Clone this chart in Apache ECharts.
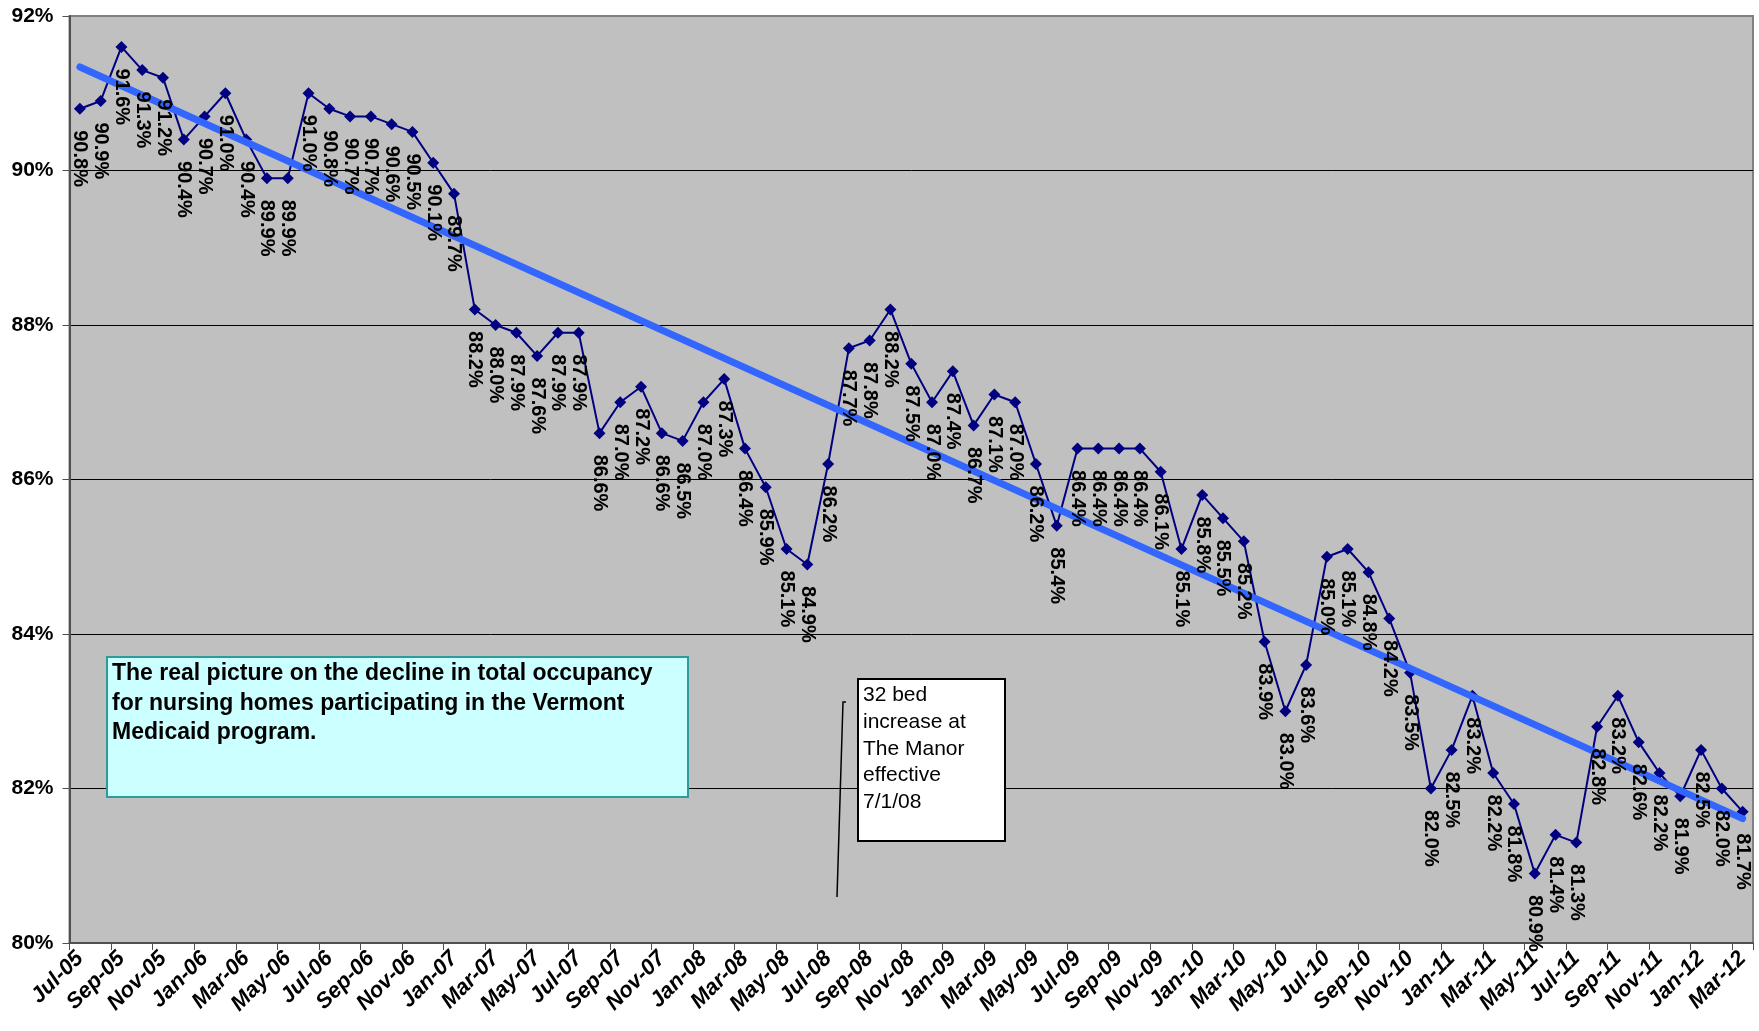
<!DOCTYPE html>
<html><head><meta charset="utf-8">
<script src="https://cdn.jsdelivr.net/npm/echarts@6/dist/echarts.min.js"></script>
<style>html,body{margin:0;padding:0;background:#fff}#c{width:1759px;height:1031px}</style>
</head><body><div id="c"></div>
<script>
const months = [
  'Jul-05','Aug-05','Sep-05','Oct-05','Nov-05','Dec-05',
  'Jan-06','Feb-06','Mar-06','Apr-06','May-06','Jun-06','Jul-06','Aug-06','Sep-06','Oct-06','Nov-06','Dec-06',
  'Jan-07','Feb-07','Mar-07','Apr-07','May-07','Jun-07','Jul-07','Aug-07','Sep-07','Oct-07','Nov-07','Dec-07',
  'Jan-08','Feb-08','Mar-08','Apr-08','May-08','Jun-08','Jul-08','Aug-08','Sep-08','Oct-08','Nov-08','Dec-08',
  'Jan-09','Feb-09','Mar-09','Apr-09','May-09','Jun-09','Jul-09','Aug-09','Sep-09','Oct-09','Nov-09','Dec-09',
  'Jan-10','Feb-10','Mar-10','Apr-10','May-10','Jun-10','Jul-10','Aug-10','Sep-10','Oct-10','Nov-10','Dec-10',
  'Jan-11','Feb-11','Mar-11','Apr-11','May-11','Jun-11','Jul-11','Aug-11','Sep-11','Oct-11','Nov-11','Dec-11',
  'Jan-12','Feb-12','Mar-12'
];
const occupancy = [
  90.8,90.9,91.6,91.3,91.2,90.4,
  90.7,91.0,90.4,89.9,89.9,91.0,90.8,90.7,90.7,90.6,90.5,90.1,
  89.7,88.2,88.0,87.9,87.6,87.9,87.9,86.6,87.0,87.2,86.6,86.5,
  87.0,87.3,86.4,85.9,85.1,84.9,86.2,87.7,87.8,88.2,87.5,87.0,
  87.4,86.7,87.1,87.0,86.2,85.4,86.4,86.4,86.4,86.4,86.1,85.1,
  85.8,85.5,85.2,83.9,83.0,83.6,85.0,85.1,84.8,84.2,83.5,82.0,
  82.5,83.2,82.2,81.8,80.9,81.4,81.3,82.8,83.2,82.6,82.2,81.9,
  82.5,82.0,81.7
];
// linear trend line end values (first and last month)
const trendEnds = [91.34, 81.61];
const yMin = 80, yMax = 92, yStep = 2;

const FONT = '"Liberation Sans", Arial, sans-serif';
const chart = echarts.init(document.getElementById('c'), null, {renderer: 'canvas'});
chart.setOption({
  animation: false,
  backgroundColor: '#ffffff',
  grid: {left: 69.5, right: 6, top: 16, bottom: 88, show: true,
         backgroundColor: '#C0C0C0', borderColor: '#808080', borderWidth: 2, containLabel: false},
  xAxis: {
    type: 'category', data: months, boundaryGap: true,
    axisLine: {show: true, lineStyle: {color: '#505050', width: 2}},
    axisTick: {show: true, interval: 1, length: 7, lineStyle: {color: '#505050', width: 1}},
    axisLabel: {interval: 1, rotate: 45, fontSize: 22, fontWeight: 'bold', fontStyle: 'italic',
                color: '#000', margin: 12, fontFamily: FONT},
    splitLine: {show: false}
  },
  yAxis: {
    type: 'value', min: yMin, max: yMax, interval: yStep,
    axisLine: {show: true, lineStyle: {color: '#505050', width: 2}},
    axisTick: {show: true, length: 7, lineStyle: {color: '#505050', width: 1}},
    axisLabel: {formatter: '{value}%', fontSize: 21, fontWeight: 'bold', color: '#000',
                fontFamily: FONT, margin: 16},
    splitLine: {show: true, lineStyle: {color: ['#000','#000','#000','#000','#000','#000','#808080'], width: 1}}
  },
  series: [
    {type: 'line', data: occupancy, z: 2, symbol: 'diamond', symbolSize: 12,
     lineStyle: {color: '#000080', width: 2}, itemStyle: {color: '#000080'}, label: {show: false}, silent: true},
    {type: 'line', data: [[months[0], trendEnds[0]], [months[months.length-1], trendEnds[1]]], z: 3,
     symbol: 'none', lineStyle: {color: '#3366FF', width: 7, cap: 'round'}, silent: true},
    {type: 'line', data: occupancy, z: 4, symbol: 'circle', symbolSize: 1,
     lineStyle: {opacity: 0, width: 0}, itemStyle: {color: 'rgba(0,0,0,0)'}, silent: true,
     label: {show: true, position: 'bottom', distance: 21, rotate: -90, align: 'left', verticalAlign: 'middle',
             formatter: p => p.value.toFixed(1) + '%', fontSize: 20, fontWeight: 'bold', fontFamily: FONT, color: '#000'}}
  ],
  graphic: [
    {type: 'rect', z: 10, shape: {x: 107, y: 657, width: 581, height: 140},
     style: {fill: '#CCFFFF', stroke: '#2E9A9A', lineWidth: 2}},
    {type: 'text', z: 11, x: 112, y: 659,
     style: {text: 'The real picture on the decline in total occupancy\nfor nursing homes participating in the Vermont\nMedicaid program.',
             font: 'bold 23px "Liberation Sans", Arial, sans-serif', fill: '#000', lineHeight: 29.5}},
    {type: 'rect', z: 10, shape: {x: 858, y: 679, width: 147, height: 162},
     style: {fill: '#ffffff', stroke: '#000', lineWidth: 2}},
    {type: 'text', z: 11, x: 863, y: 682,
     style: {text: '32 bed\nincrease at\nThe Manor\neffective\n7/1/08',
             font: '21px "Liberation Sans", Arial, sans-serif', fill: '#000', lineHeight: 26.7}},
    {type: 'polyline', z: 10, shape: {points: [[846, 702], [843, 702], [837, 897]]},
     style: {stroke: '#000', lineWidth: 1.5, fill: null}}
  ]
});
</script>
</body></html>
